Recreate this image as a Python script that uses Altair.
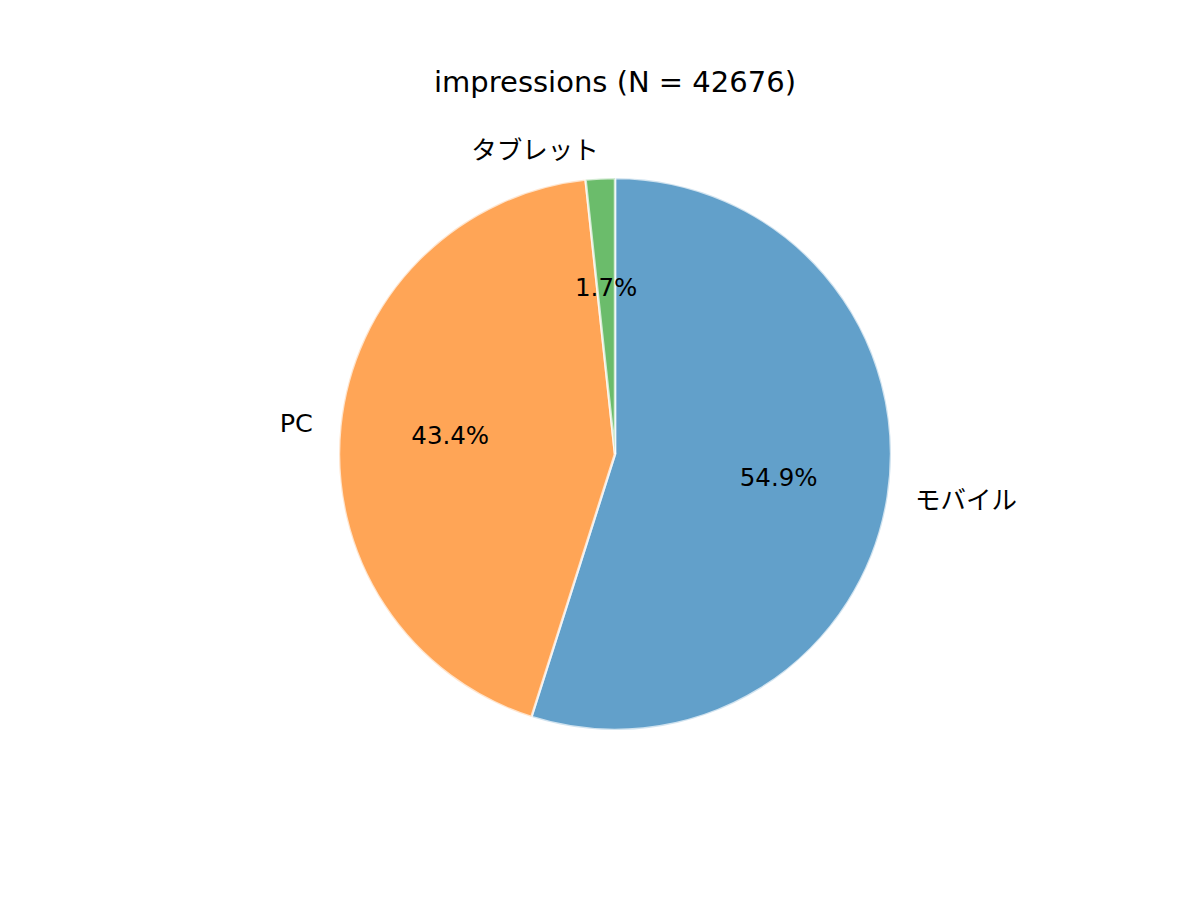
import altair as alt
import pandas as pd

categories = ["モバイル", "PC", "タブレット"]
counts = [23429, 18521, 726]
colors = ["#1f77b4", "#ff7f0e", "#2ca02c"]
title_text = "impressions (N = 42676)"

df = pd.DataFrame({"device": categories, "count": counts, "idx": list(range(len(categories)))})

FONT = "DejaVu Sans, Noto Sans CJK JP"
R = 276
CX, CY = 607, 346

base = alt.Chart(df).transform_joinaggregate(
    total="sum(count)"
).transform_window(
    cum="sum(count)", sort=[alt.SortField("idx")], frame=[None, 0]
).transform_calculate(
    mid="(datum.cum - datum.count / 2) / datum.total",
    pct="format(datum.count / datum.total * 100, '.1f') + '%'",
).encode(
    theta=alt.Theta("count:Q", stack=True),
    order=alt.Order("idx:Q"),
    x=alt.value(CX),
    y=alt.value(CY),
)

pie = base.mark_arc(
    outerRadius=R, fillOpacity=0.7, stroke="white", strokeOpacity=0.7, strokeWidth=2.5
).encode(
    color=alt.Color("device:N", scale=alt.Scale(domain=categories, range=colors), legend=None)
)

pct_text = base.mark_text(radius=R * 0.6, font=FONT, fontSize=24.5, color="black",
                          align="center", baseline="middle").encode(text="pct:N")

right_lbl = base.mark_text(radius=R * 1.1, font=FONT, fontSize=25.5, color="black",
                           align="left", baseline="middle").encode(
    text=alt.condition("sin(2*PI*datum.mid) > 0", "device:N", alt.value(""))
)
left_lbl = base.mark_text(radius=R * 1.1, font=FONT, fontSize=25.5, color="black",
                          align="right", baseline="middle").encode(
    text=alt.condition("sin(2*PI*datum.mid) <= 0", "device:N", alt.value(""))
)

chart = alt.layer(pie, pct_text, right_lbl, left_lbl).properties(
    width=1184, height=784,
    autosize=alt.AutoSizeParams(type="none"),
    padding={"left": 0, "right": 0, "top": 100, "bottom": 0},
    title=alt.TitleParams(title_text, font=FONT, fontSize=29, fontWeight="normal",
                          color="black", anchor="middle", offset=10, dx=15),
).configure_view(stroke=None)

chart.save("out.html", embed_options={"renderer": "svg", "actions": False})
